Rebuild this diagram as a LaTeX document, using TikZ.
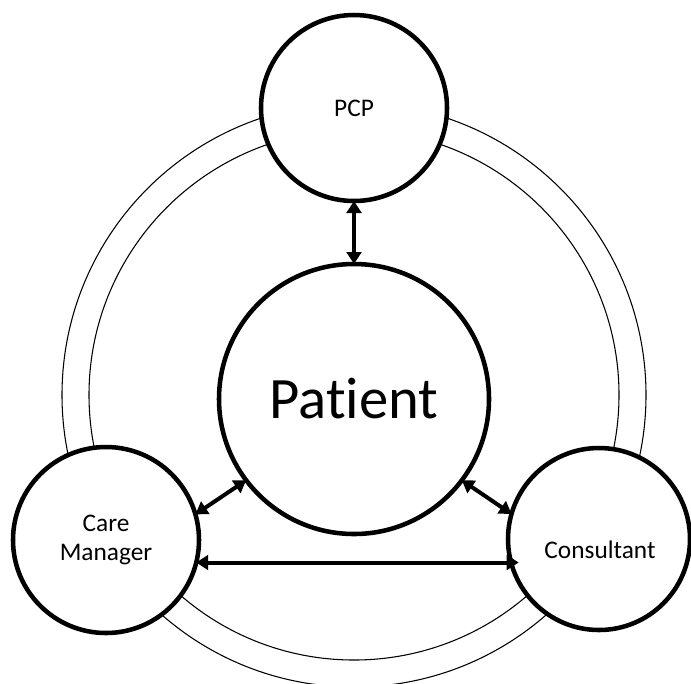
\documentclass[tikz,border=0pt]{standalone}
\usepackage{fontspec}
\setmainfont{Carlito}[Ligatures={NoCommon}]
\usetikzlibrary{arrows.meta,calc}
\begin{document}
\begin{tikzpicture}[x=0.75pt,y=-0.75pt,
  actor/.style={circle,draw,line width=3.4pt,fill=white,inner sep=0pt,outer sep=0pt,align=center,
    font=\fontsize{19}{21.5}\selectfont},
  ring/.style={draw,line width=0.8pt},
  link/.style={line width=3pt,{Triangle[length=9pt,width=11pt]}-{Triangle[length=9pt,width=11pt]}}]
\useasboundingbox (0,0) rectangle (691,683);
\clip (0,0) rectangle (691,683);
\coordinate (c) at (354,395);
\draw[ring] (c) circle[radius=292];
\draw[ring] (c) circle[radius=265];
\node[actor,minimum size=139.5pt] (pcp) at (354,108) {PCP};
\node[actor,minimum size=202.5pt,font=\fontsize{44}{50}\selectfont] (pat) at (354,399) {Patient};
\node[actor,minimum size=139.5pt] (cm) at (106,540) {Care\\Manager};
\node[actor,minimum size=136.5pt] (cons) at (599,539) {};
\node[font=\fontsize{19}{21.5}\selectfont,inner sep=0pt] (consl) at (600,550) {Consultant};
\draw[link] (pcp.south) -- (pat.north);
\draw[link] (pat.217) -- (cm.16);
\draw[link] (pat.323) -- (cons.164);
\draw[link] (cm.346) -- ([xshift=8pt]cm.346 -| cons.west);
\end{tikzpicture}
\end{document}
